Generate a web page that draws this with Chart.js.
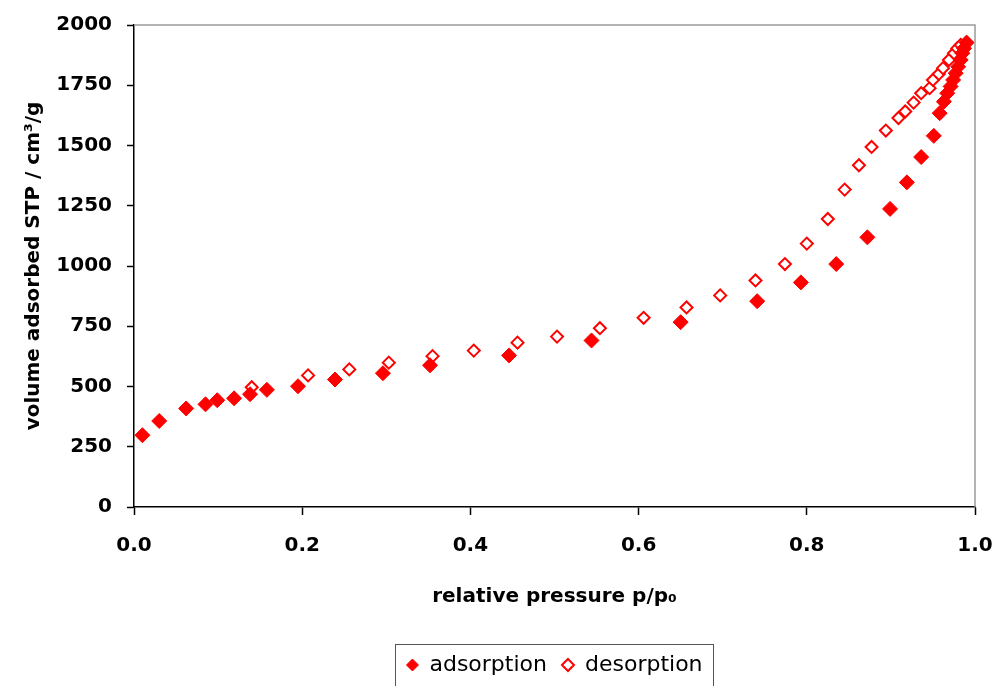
<!DOCTYPE html>
<html>
<head>
<meta charset="utf-8">
<script src="https://cdn.jsdelivr.net/npm/chart.js@4/dist/chart.umd.min.js"></script>
<style>
  html, body { margin: 0; padding: 0; background: #fff; }
  #wrap { width: 996px; height: 686px; overflow: hidden; }
</style>
</head>
<body>
<div id="wrap"><canvas id="c" width="996" height="686"></canvas></div>
<script>
// ---- data ----
const adsorptionP = [0.010, 0.030, 0.062, 0.085, 0.099, 0.119, 0.138, 0.158, 0.195, 0.239, 0.296, 0.352, 0.446, 0.544, 0.650, 0.741, 0.793, 0.835, 0.872, 0.899, 0.919, 0.936, 0.951, 0.958, 0.963, 0.967, 0.971, 0.974, 0.977, 0.980, 0.983, 0.985, 0.987, 0.990];
const adsorptionV = [298, 357, 409, 426, 443, 451, 468, 486, 501, 529, 555, 588, 629, 691, 767, 854, 932, 1008, 1119, 1237, 1347, 1452, 1540, 1634, 1682, 1717, 1745, 1772, 1800, 1827, 1855, 1883, 1903, 1927];
const desorptionP = [0.140, 0.207, 0.256, 0.303, 0.355, 0.404, 0.456, 0.503, 0.554, 0.606, 0.657, 0.697, 0.739, 0.774, 0.800, 0.825, 0.845, 0.862, 0.877, 0.894, 0.909, 0.917, 0.927, 0.936, 0.946, 0.950, 0.957, 0.962, 0.969, 0.975, 0.979, 0.983, 0.990];
const desorptionV = [497, 546, 571, 599, 626, 649, 682, 707, 742, 785, 828, 878, 940, 1008, 1093, 1195, 1317, 1418, 1494, 1562, 1614, 1641, 1678, 1717, 1738, 1772, 1797, 1821, 1855, 1883, 1903, 1917, 1927];
const seriesNames = ['adsorption', 'desorption'];
const xTitle = 'relative pressure p/p\u2080';
const yTitle = 'volume adsorbed STP / cm\u00B3/g';
const xMin = 0, xMax = 1, xStep = 0.2;
const yMin = 0, yMax = 2000, yStep = 250;

const toPts = (xs, ys) => xs.map((x, i) => ({ x: x, y: ys[i] }));
const FONT = 'DejaVu Sans';

const frame = {
  id: 'frame',
  afterDraw(chart) {
    const { ctx, chartArea: a } = chart;
    ctx.save();
    ctx.strokeStyle = '#9a9a9a';
    ctx.lineWidth = 1.5;
    ctx.beginPath();
    ctx.moveTo(a.left, a.top);
    ctx.lineTo(a.right, a.top);
    ctx.lineTo(a.right, a.bottom);
    ctx.stroke();
    // legend box
    const lg = chart.legend;
    if (lg && lg.legendHitBoxes && lg.legendHitBoxes.length) {
      const hb = lg.legendHitBoxes;
      const l = Math.min(...hb.map(h => h.left)) - 11;
      const r = Math.max(...hb.map(h => h.left + h.width)) + 11;
      const t = hb[0].top - 10;
      ctx.strokeStyle = '#555';
      ctx.lineWidth = 1;
      ctx.strokeRect(Math.round(l) + 0.5, Math.round(t) + 0.5, Math.round(r - l), 80);
    }
    ctx.restore();
  }
};

new Chart(document.getElementById('c'), {
  type: 'scatter',
  data: {
    datasets: [
      {
        label: seriesNames[0],
        data: toPts(adsorptionP, adsorptionV),
        pointStyle: 'rectRot',
        pointRadius: 7.5,
        pointHoverRadius: 7.5,
        backgroundColor: '#ff0000',
        borderColor: '#ff0000',
        borderWidth: 1
      },
      {
        label: seriesNames[1],
        data: toPts(desorptionP, desorptionV),
        pointStyle: 'rectRot',
        pointRadius: 6,
        pointHoverRadius: 6,
        backgroundColor: '#ffffff',
        borderColor: '#ff0000',
        borderWidth: 2
      }
    ]
  },
  options: {
    responsive: false,
    animation: false,
    events: [],
    layout: { padding: { left: 0, top: 25, right: 21, bottom: 0 } },
    plugins: {
      tooltip: { enabled: false },
      legend: {
        position: 'bottom',
        fullSize: false,
        labels: {
          usePointStyle: true,
          pointStyleWidth: 12,
          boxHeight: 8.5,
          padding: 15,
          color: '#000',
          font: { family: FONT, size: 22 }
        }
      }
    },
    scales: {
      x: {
        type: 'linear',
        min: xMin, max: xMax,
        afterFit: s => { s.height = 132; s.paddingLeft = 0; s.paddingRight = 0; },
        ticks: {
          stepSize: xStep,
          padding: 19,
          color: '#000',
          font: { family: FONT, size: 20, weight: 'bold' },
          callback: v => Number(v).toFixed(1)
        },
        grid: { drawOnChartArea: false, drawTicks: true, tickLength: 8, tickColor: '#000', tickWidth: 1.5 },
        border: { color: '#000', width: 1.5 },
        title: {
          display: true,
          text: xTitle,
          color: '#000',
          font: { family: FONT, size: 20, weight: 'bold' },
          padding: { top: 0, bottom: 30 }
        }
      },
      y: {
        type: 'linear',
        min: yMin, max: yMax,
        afterFit: s => { s.width = 134; s.paddingTop = 0; s.paddingBottom = 0; },
        ticks: {
          stepSize: yStep,
          padding: 15,
          color: '#000',
          font: { family: FONT, size: 20, weight: 'bold' },
          callback: v => String(v)
        },
        grid: { drawOnChartArea: false, drawTicks: true, tickLength: 7, tickColor: '#000', tickWidth: 1.5 },
        border: { color: '#000', width: 1.5 },
        title: {
          display: true,
          text: yTitle,
          color: '#000',
          font: { family: FONT, size: 20, weight: 'bold' },
          padding: { top: 22, bottom: 0 }
        }
      }
    }
  },
  plugins: [frame]
});
</script>
</body>
</html>
